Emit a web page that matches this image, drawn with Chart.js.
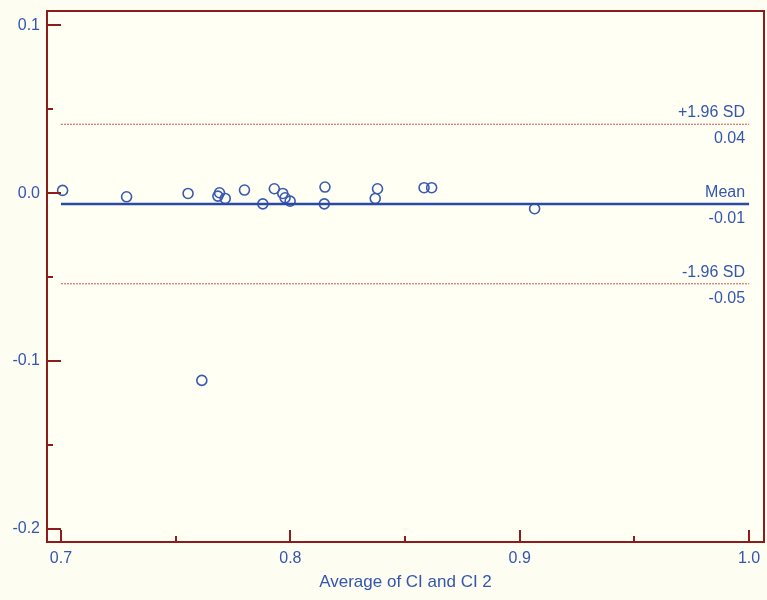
<!DOCTYPE html>
<html>
<head>
<meta charset="utf-8">
<script src="https://cdn.jsdelivr.net/npm/chart.js@4"></script>
<style>
  html, body { margin: 0; padding: 0; background: #FDFDF2; }
  #wrap { width: 767px; height: 600px; }
</style>
</head>
<body>
<div id="wrap"><canvas id="c" width="767" height="600"></canvas></div>
<script>
// ---- data ----
const averageValues = [0.7007, 0.7286, 0.7554, 0.7691, 0.7684, 0.7716, 0.7800, 0.7880, 0.7930, 0.7967, 0.7977, 0.7999, 0.8151, 0.8148, 0.8380, 0.8370, 0.8583, 0.8616, 0.9065, 0.7614];
const differenceValues = [0.0016, -0.0022, -0.0002, 0.0002, -0.0018, -0.0032, 0.0018, -0.0064, 0.0026, -0.0002, -0.0028, -0.0048, 0.0036, -0.0064, 0.0026, -0.0032, 0.0032, 0.0032, -0.0093, -0.1115];
const meanDifference = -0.0065;
const upperLimit = 0.041;
const lowerLimit = -0.054;
const lineStartX = 0.7;
const lineEndX = 1.0;
const referenceLabels = ['+1.96 SD', 'Mean', '-1.96 SD'];
const referenceValueLabels = ['0.04', '-0.01', '-0.05'];
const xMajorTicks = [0.7, 0.8, 0.9, 1.0];
const xTickLabels = ['0.7', '0.8', '0.9', '1.0'];
const xMinorTicks = [0.75, 0.85, 0.95];
const yMajorTicks = [0.1, 0.0, -0.1, -0.2];
const yMinorTicks = [0.05, -0.05, -0.15];
const xAxisTitle = 'Average of CI and CI 2';

// ---- styles ----
const frameColor = '#8E1C1C';
const textColor = '#3456AE';
const pointColor = '#3A5AB0';
const meanColor = '#2A4AA8';
const sdColor = '#CC5555';
const fontFamily = '"Liberation Sans", Arial, sans-serif';

const points = averageValues.map((x, i) => ({ x: x, y: differenceValues[i] }));

const framePlugin = {
  id: 'frame',
  beforeDraw(chart) {
    const { ctx, chartArea: ca } = chart;
    ctx.save();
    ctx.fillStyle = '#FFFFF4';
    ctx.fillRect(ca.left, ca.top, ca.right - ca.left, ca.bottom - ca.top);
    ctx.restore();
  },
  afterDatasetsDraw(chart) {
    const { ctx } = chart;
    const xs = chart.scales.x, ys = chart.scales.y;
    ctx.save();
    ctx.font = '16px ' + fontFamily;
    ctx.fillStyle = textColor;
    ctx.textAlign = 'right';
    const refs = [upperLimit, meanDifference, lowerLimit];
    const xr = xs.getPixelForValue(lineEndX) - 4;
    refs.forEach((v, i) => {
      const py = ys.getPixelForValue(v);
      ctx.textBaseline = 'alphabetic';
      ctx.fillText(referenceLabels[i], xr, py - 7);
      ctx.fillText(referenceValueLabels[i], xr, py + 19);
    });
    ctx.restore();
  },
  afterDraw(chart) {
    const { ctx, chartArea: ca } = chart;
    const xs = chart.scales.x, ys = chart.scales.y;
    ctx.save();
    ctx.font = '16px ' + fontFamily;
    ctx.fillStyle = textColor;
    ctx.textAlign = 'center';
    ctx.textBaseline = 'alphabetic';
    xMajorTicks.forEach((v, i) => {
      ctx.fillText(xTickLabels[i], xs.getPixelForValue(v), ca.bottom + 21);
    });
    ctx.strokeStyle = frameColor;
    ctx.lineWidth = 2;
    ctx.strokeRect(ca.left, ca.top, ca.right - ca.left, ca.bottom - ca.top);
    ctx.beginPath();
    xMajorTicks.forEach(v => {
      const px = Math.round(xs.getPixelForValue(v));
      ctx.moveTo(px, ca.bottom); ctx.lineTo(px, ca.bottom - 12);
    });
    xMinorTicks.forEach(v => {
      const px = Math.round(xs.getPixelForValue(v));
      ctx.moveTo(px, ca.bottom); ctx.lineTo(px, ca.bottom - 6);
    });
    yMajorTicks.forEach(v => {
      const py = Math.round(ys.getPixelForValue(v));
      ctx.moveTo(ca.left, py); ctx.lineTo(ca.left + 14, py);
    });
    yMinorTicks.forEach(v => {
      const py = Math.round(ys.getPixelForValue(v));
      ctx.moveTo(ca.left, py); ctx.lineTo(ca.left + 6, py);
    });
    ctx.stroke();
    ctx.restore();
  }
};

new Chart(document.getElementById('c'), {
  type: 'scatter',
  data: {
    datasets: [
      {
        type: 'line',
        data: [{ x: lineStartX, y: upperLimit }, { x: lineEndX, y: upperLimit }],
        borderColor: sdColor, borderWidth: 1, borderDash: [2, 1],
        pointRadius: 0, fill: false
      },
      {
        type: 'line',
        data: [{ x: lineStartX, y: lowerLimit }, { x: lineEndX, y: lowerLimit }],
        borderColor: sdColor, borderWidth: 1, borderDash: [2, 1],
        pointRadius: 0, fill: false
      },
      {
        type: 'line',
        data: [{ x: lineStartX, y: meanDifference }, { x: lineEndX, y: meanDifference }],
        borderColor: meanColor, borderWidth: 2.5,
        pointRadius: 0, fill: false
      },
      {
        data: points,
        pointStyle: 'circle',
        pointRadius: 5,
        borderColor: pointColor,
        backgroundColor: 'rgba(0,0,0,0)',
        borderWidth: 1.6
      }
    ]
  },
  options: {
    responsive: false,
    animation: false,
    devicePixelRatio: 1,
    layout: { autoPadding: false, padding: { top: 11, right: 3, left: 0, bottom: 0 } },
    plugins: { legend: { display: false }, tooltip: { enabled: false } },
    scales: {
      x: {
        type: 'linear',
        min: 0.6939, max: 1.0065,
        afterBuildTicks(scale) { scale.ticks = xMajorTicks.map(v => ({ value: v })); },
        afterFit(scale) {
          scale.height = 58;
          scale.paddingLeft = 0; scale.paddingRight = 0;
          scale.paddingTop = 0; scale.paddingBottom = 0;
        },
        grid: { display: false, drawTicks: false },
        border: { display: false },
        ticks: { display: false },
        title: {
          display: true, text: xAxisTitle, color: textColor,
          font: { family: fontFamily, size: 17 },
          padding: { top: 0, bottom: 7 }
        }
      },
      y: {
        type: 'linear',
        min: -0.2077, max: 0.1084,
        afterBuildTicks(scale) { scale.ticks = yMajorTicks.map(v => ({ value: v })); },
        afterFit(scale) {
          scale.width = 47;
          scale.paddingLeft = 0; scale.paddingRight = 0;
          scale.paddingTop = 0; scale.paddingBottom = 0;
        },
        grid: { display: false, drawTicks: false },
        border: { display: false },
        ticks: {
          color: textColor, padding: 7,
          font: { family: fontFamily, size: 16 },
          autoSkip: false,
          callback: v => Number(v).toFixed(1)
        }
      }
    }
  },
  plugins: [framePlugin]
});
</script>
</body>
</html>
